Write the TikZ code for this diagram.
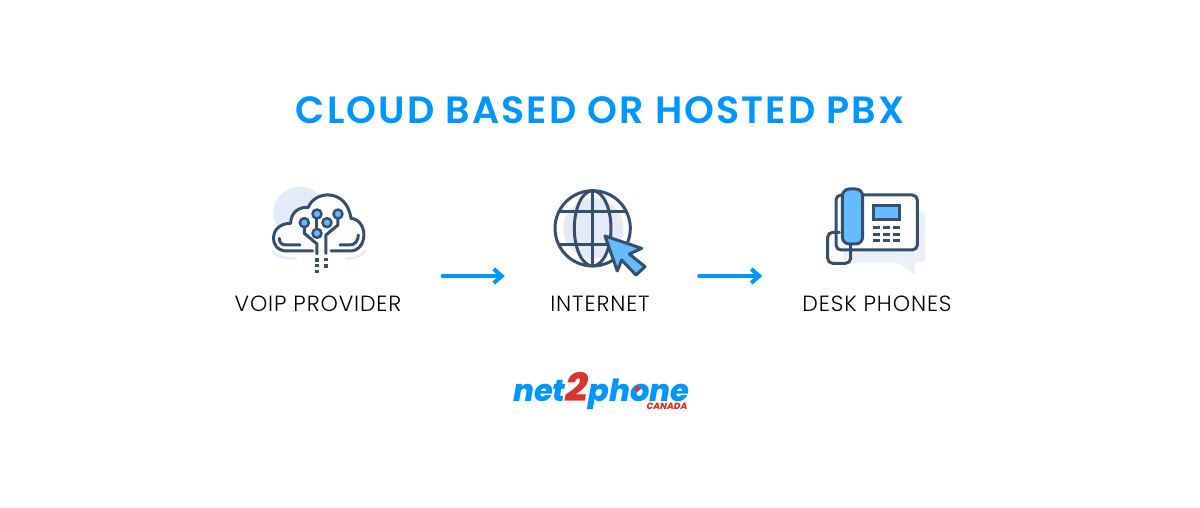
\documentclass[tikz,border=0pt]{standalone}
\usepackage{fontspec}
\setmainfont{Poppins}
\newfontfamily\titlefont[LetterSpace=5.6]{Poppins SemiBold}
\newfontfamily\labfont[LetterSpace=4]{Poppins Light}
\newfontfamily\logofont{Poppins ExtraBold Italic}
\usetikzlibrary{arrows.meta}
\definecolor{ink}{HTML}{34506E}
\definecolor{sky}{HTML}{64BBFF}
\definecolor{pale}{HTML}{E4EBF7}
\definecolor{brand}{HTML}{0096FF}
\definecolor{maple}{HTML}{D8352F}
\tikzset{
  titletext/.style={inner sep=0,text=brand,font=\titlefont\fontsize{38}{38}\selectfont},
  labeltext/.style={inner sep=0,text=black,font=\labfont\fontsize{22}{24}\selectfont},
  icon/.style={draw=ink,line width=3pt,line cap=round,line join=round},
  flow/.style={draw=brand,line width=4pt,line cap=round,-{Straight Barb[length=8pt,width=14pt,line width=4pt]}},
}
\begin{document}
\begin{tikzpicture}[x=1pt,y=-1pt]
\useasboundingbox (0,0) rectangle (1200,508);
\fill[white] (0,0) rectangle (1200,508);
\node[titletext] (title) at (600,110) {CLOUD BASED OR HOSTED PBX};

% cloud
\begin{scope}[shift={(250,170)},x=0.3333pt,y=-0.3333pt]
\fill[pale] (150,130) circle (80);
\draw[pale,line width=2.4pt,line cap=round] (68,245) .. controls (85,262) and (110,266) .. (138,265);
\draw[pale,line width=2.4pt,line cap=round] (288,265) .. controls (315,266) and (335,258) .. (345,242);
\fill[white] (188,243) -- (110,243) .. controls (55,243) and (55,160) .. (122,160) .. controls (122,125) and (150,110) .. (175,112) .. controls (195,60) and (290,55) .. (303,145) .. controls (355,150) and (355,243) .. (300,243) -- (243,243) -- cycle;
\draw[icon] (188,243) -- (110,243) .. controls (55,243) and (55,160) .. (122,160) .. controls (122,125) and (150,110) .. (175,112) .. controls (195,60) and (290,55) .. (303,145) .. controls (355,150) and (355,243) .. (300,243) -- (243,243);
\draw[icon] (88,205) .. controls (88,218) and (95,225) .. (108,225) -- (150,225);
\draw[icon] (270,225) -- (300,225) .. controls (315,225) and (325,212) .. (325,195);
\draw[icon] (163,170) -- (163,190) -- (201,222) -- (201,252);
\draw[icon] (201,145) -- (201,178);
\draw[icon] (264,145) -- (264,165) -- (228,195) -- (228,250);
\foreach \px/\py in {163/158,201/132,264/132,231/158,201/190}
  \draw[icon,line width=2.5pt,fill=sky] (\px,\py) circle (13.5);
\foreach \px/\py in {201/270,201/287,201/304,228/268,228/288}
  \fill[ink] (\px-5,\py-5) rectangle (\px+5,\py+5);
\end{scope}

% globe
\begin{scope}[shift={(530,170)},x=0.3333pt,y=-0.3333pt]
\fill[pale] (190,175) circle (90);
\draw[icon] (188,175) circle (113);
\draw[icon] (188,175) ellipse (55 and 113);
\draw[icon] (188,62) -- (188,288);
\draw[icon] (88,125) -- (288,125);
\draw[icon] (88,225) -- (288,225);
\draw[icon,fill=sky] (225,198) -- (335,235) -- (298,252) -- (345,290) -- (318,315) -- (275,270) -- (262,303) -- cycle;
\end{scope}

% phone
\begin{scope}[shift={(810,170)},x=0.3333pt,y=-0.3333pt]
\fill[pale!75!white] (100,72) rectangle (300,130);
\fill[pale!75!white,rounded corners=3pt] (100,125) -- (345,125) -- (345,275) -- (315,275) -- (315,318) -- (265,278) -- (100,278) -- cycle;
\draw[icon,fill=white,rounded corners=5pt] (78,75) rectangle (322,240);
\draw[icon,rounded corners=5pt] (122,225) -- (122,280) -- (53,280) -- (53,187) -- (88,187);
\draw[icon,fill=sky,rounded corners=7pt] (97,57) rectangle (158,222);
\draw[icon,fill=sky,line cap=butt,line join=miter] (190,107) rectangle (270,150);
\foreach \kx in {190,220,250}
  \foreach \ky in {168,188,207}
    \fill[ink] (\kx,\ky) rectangle +(19,10);
\end{scope}

\node[labeltext,minimum width=166pt] (voip) at (318,304) {VOIP PROVIDER};
\node[labeltext,minimum width=102pt] (net) at (600,304) {INTERNET};
\node[labeltext,minimum width=148pt] (desk) at (877,304) {DESK PHONES};

\path (voip.east) ++(41,-28) coordinate (a1s);
\path (net.west) ++(-44,-28) coordinate (a1e);
\path (net.east) ++(48,-28) coordinate (a2s);
\path (desk.west) ++(-40,-28) coordinate (a2e);
\draw[flow] (a1s) -- (a1e);
\draw[flow] (a2s) -- (a2e);

% logo
\node[inner sep=0,anchor=base west,text depth=0pt] (logo) at (513,401) {\logofont\fontsize{30.5}{31}\selectfont\textcolor{brand}{net}\textcolor{maple}{\fontsize{40}{40}\selectfont 2}\textcolor{brand}{phone}};
\node[inner sep=0,anchor=base east,text=maple] (canada) at (687.5,409.5) {\logofont\fontsize{9}{10}\selectfont CANADA};
\fill[maple] (637.5,385) -- (638.4,387) -- (640.3,386.6) -- (640,389) -- (640.8,389.6) -- (637.8,391.2) -- (637.8,392) -- (637.2,392) -- (637.2,391.2) -- (634.2,389.6) -- (635,389) -- (634.7,386.6) -- (636.6,387) -- cycle;
\end{tikzpicture}
\end{document}
